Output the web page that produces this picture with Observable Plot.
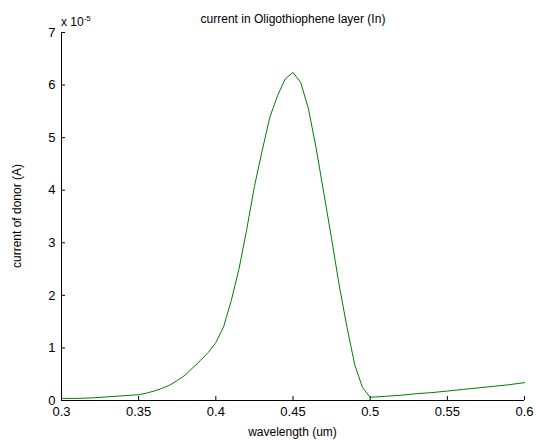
<!DOCTYPE html>
<html>
<head>
<meta charset="utf-8">
<script src="https://cdn.jsdelivr.net/npm/d3@7"></script>
<script src="https://cdn.jsdelivr.net/npm/@observablehq/plot@0.6"></script>
<style>
  html, body { margin: 0; padding: 0; background: #fff; }
</style>
</head>
<body>
<div id="chart"></div>
<script>
// wavelength (um)
const wavelength = [0.30,0.31,0.32,0.33,0.34,0.35,0.355,0.36,0.365,0.37,0.375,0.38,0.385,0.39,0.395,0.40,0.405,0.41,0.415,0.42,0.425,0.43,0.435,0.44,0.445,0.45,0.455,0.46,0.465,0.47,0.475,0.48,0.485,0.49,0.495,0.50,0.51,0.52,0.53,0.54,0.55,0.56,0.57,0.58,0.59,0.60];
// current of donor (x 1e-5 A)
const current = [0.04,0.04,0.05,0.07,0.09,0.11,0.14,0.18,0.23,0.29,0.38,0.48,0.62,0.76,0.91,1.10,1.40,1.90,2.50,3.25,4.07,4.75,5.39,5.80,6.12,6.24,6.05,5.55,4.80,3.94,3.08,2.18,1.39,0.68,0.25,0.06,0.08,0.10,0.13,0.15,0.18,0.21,0.24,0.27,0.30,0.34];
const xTicks = [0.3,0.35,0.4,0.45,0.5,0.55,0.6];
const yTicks = [0,1,2,3,4,5,6,7];
const title = "current in Oligothiophene layer (In)";
const xLabel = "wavelength (um)";
const yLabel = "current of donor (A)";

const data = wavelength.map((w, i) => ({w, c: current[i]}));

const W = 536, H = 440;
const mL = 61, mR = 12, mT = 32, mB = 40;
const pw = W - mL - mR, ph = H - mT - mB;

const chart = Plot.plot({
  width: W, height: H,
  marginLeft: mL, marginRight: mR, marginTop: mT, marginBottom: mB,
  style: {fontFamily: "'Liberation Sans', Arial, sans-serif", fontSize: "13px", background: "#fff", color: "#000"},
  x: {domain: [0.3, 0.6]},
  y: {domain: [0, 7]},
  marks: [
    Plot.axisX({ticks: xTicks, tickSize: 0, tickPadding: 6, tickFormat: d => String(+d.toFixed(2)), label: null, fontSize: 13}),
    Plot.axisY({ticks: yTicks, tickSize: 0, tickPadding: 6, tickFormat: d => String(d), label: null, fontSize: 13}),
    Plot.tickX(xTicks, {x: d => d, insetTop: ph - 4, stroke: "#000"}),
    Plot.tickY(yTicks, {y: d => d, insetRight: pw - 4, stroke: "#000"}),
    Plot.line(data, {x: "w", y: "c", stroke: "#008000", strokeWidth: 1}),
    Plot.ruleY([0], {stroke: "#000"}),
    Plot.ruleX([0.3], {stroke: "#000"})
  ]
});

document.getElementById("chart").appendChild(chart);

const svg = d3.select(chart);
svg.append("text")
  .attr("x", 293).attr("y", 23)
  .attr("text-anchor", "middle")
  .attr("font-size", 12)
  .attr("fill", "#000")
  .text(title);
svg.append("text")
  .attr("x", mL + pw / 2).attr("y", 436)
  .attr("text-anchor", "middle")
  .attr("font-size", 12)
  .attr("fill", "#000")
  .text(xLabel);
svg.append("text")
  .attr("transform", `translate(21,${mT + ph / 2}) rotate(-90)`)
  .attr("text-anchor", "middle")
  .attr("font-size", 12)
  .attr("fill", "#000")
  .text(yLabel);
const exp = svg.append("text")
  .attr("x", 61).attr("y", 26)
  .attr("text-anchor", "start")
  .attr("font-size", 12)
  .attr("fill", "#000");
exp.append("tspan").text("x 10");
exp.append("tspan").attr("dy", -5).attr("font-size", 8).text("-5");
</script>
</body>
</html>
